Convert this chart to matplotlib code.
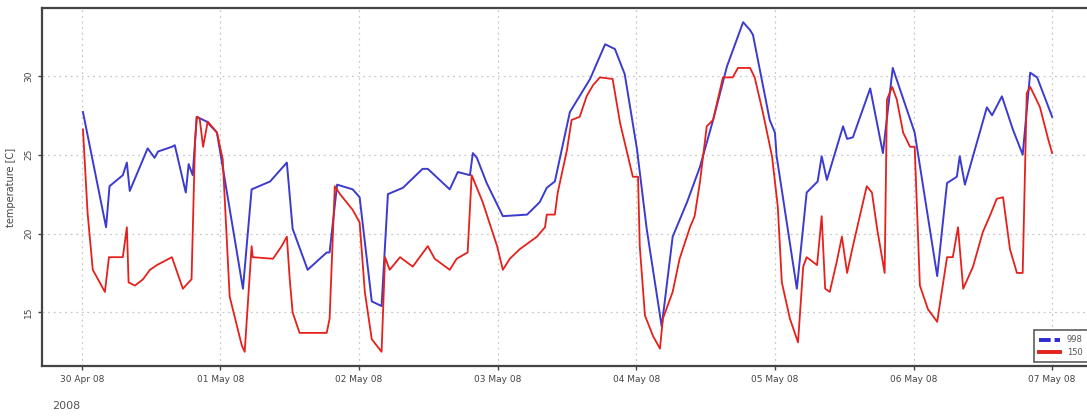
import matplotlib
matplotlib.use('Agg')
import matplotlib.pyplot as plt
import matplotlib.dates as mdates
from matplotlib.lines import Line2D
import pandas as pd

start = pd.Timestamp('2008-04-30')

# sensor at 998 (blue): hours since 30 Apr 00:00, temperature [C]
hours_998 = [0.2, 4.2, 4.8, 7.1, 7.8, 8.3, 11.4, 12.6, 13.2, 15.6, 16.1, 18.0, 18.5, 19.2,
             19.9, 21.6, 23.4, 24.4, 27.9, 29.4, 32.6, 35.5, 36.5, 39.1, 42.4, 42.9, 44.2,
             46.9, 48.1, 50.2, 51.9, 53.0, 55.6, 59.0, 59.9, 63.7, 65.1, 67.2, 67.7, 68.4,
             70.1, 72.9, 77.1, 79.3, 80.5, 81.9, 84.5, 88.0, 90.6, 92.3, 94.0, 96.1, 97.8,
             100.4, 102.3, 104.8, 107.0, 109.3, 111.7, 114.5, 115.7, 116.2, 119.1, 120.0,
             120.3, 123.8, 125.5, 127.4, 128.1, 129.0, 131.8, 132.5, 133.5, 136.5, 138.7,
             140.4, 144.2, 148.1, 149.8, 151.5, 152.0, 152.9, 156.7, 157.6, 159.3, 161.2,
             162.9, 164.2, 165.4, 168.0]
temp_998 = [27.7, 20.4, 23.0, 23.7, 24.5, 22.7, 25.4, 24.8, 25.2, 25.5, 25.6, 22.6, 24.4, 23.7,
            27.4, 27.1, 26.4, 24.2, 16.5, 22.8, 23.3, 24.5, 20.3, 17.7, 18.8, 18.8, 23.1,
            22.8, 22.3, 15.7, 15.4, 22.5, 22.9, 24.1, 24.1, 22.8, 23.9, 23.7, 25.1, 24.8,
            23.2, 21.1, 21.2, 22.0, 22.9, 23.3, 27.7, 29.8, 32.0, 31.7, 30.1, 25.4, 20.3,
            14.1, 19.8, 22.0, 24.2, 27.2, 30.6, 33.4, 32.9, 32.6, 27.2, 26.4,
            24.9, 16.5, 22.6, 23.3, 24.9, 23.4, 26.8, 26.0, 26.1, 29.2, 25.1,
            30.5, 26.4, 17.3, 23.2, 23.6, 24.9, 23.1, 28.0, 27.5, 28.7, 26.6,
            25.0, 30.2, 29.9, 27.4]

# sensor at 150 (red)
hours_150 = [0.2, 1.0, 1.9, 3.1, 4.0, 4.7, 7.1, 7.8, 8.1, 9.2, 10.6, 11.8, 13.0, 15.6, 17.5,
             19.0, 19.6, 19.9, 20.4, 21.0, 21.8, 23.4, 24.4, 25.6, 27.7, 28.2, 29.4, 29.6,
             33.1, 34.6, 35.5, 36.0, 36.5, 37.7, 42.4, 42.9, 43.8, 44.7, 46.9, 48.1, 49.0,
             50.2, 51.9, 52.5, 53.3, 55.1, 57.3, 58.5, 59.9, 61.1, 63.7, 64.9, 66.8, 67.5,
             69.4, 71.9, 72.9, 74.1, 75.8, 78.8, 80.2, 80.5, 81.9, 82.4, 84.0, 84.8, 86.2,
             87.4, 88.5, 89.7, 91.9, 93.2, 95.4, 96.3, 96.6, 97.5, 98.9, 100.1, 100.6, 102.3,
             103.5, 105.3, 106.1, 107.0, 108.2, 109.3, 111.0, 112.7, 113.6, 115.7, 116.5,
             117.9, 119.5, 120.5, 121.2, 122.6, 124.0, 124.9, 125.5, 127.3, 128.1, 128.7,
             129.5, 130.7, 131.6, 132.5, 133.5, 134.7, 135.9, 136.8, 137.7, 139.0, 139.4,
             140.3, 141.1, 142.2, 143.4, 144.2, 145.1, 146.5, 148.1, 149.8, 150.8, 151.7,
             152.6, 154.3, 156.0, 157.2, 158.4, 159.5, 160.7, 161.9, 162.9, 163.6, 164.2,
             165.0, 165.9, 167.3, 168.0]
temp_150 = [26.6, 21.3, 17.7, 16.9, 16.3, 18.5, 18.5, 20.4, 16.9, 16.7, 17.1, 17.7, 18.0, 18.5, 16.5,
            17.1, 25.8, 27.4, 27.3, 25.5, 27.1, 26.4, 24.7, 16.0, 12.9, 12.5, 19.2, 18.5,
            18.4, 19.2, 19.8, 17.1, 15.0, 13.7, 13.7, 14.6, 23.0, 22.5, 21.5, 20.7, 16.3,
            13.3, 12.5, 18.5, 17.7, 18.5, 17.9, 18.5, 19.2, 18.4, 17.7, 18.4, 18.8, 23.7,
            22.0, 19.2, 17.7, 18.4, 19.0, 19.8, 20.4, 21.2, 21.2, 22.6, 25.3, 27.2, 27.4,
            28.7, 29.4, 29.9, 29.8, 27.0, 23.6, 23.6, 19.2, 14.8, 13.5, 12.7, 14.6, 16.3,
            18.4, 20.4, 21.1, 23.2, 26.8, 27.2, 29.9, 29.9, 30.5, 30.5, 29.9,
            27.7, 24.9, 21.7, 16.9, 14.6, 13.1, 17.9, 18.5, 18.0, 21.1, 16.5,
            16.3, 18.2, 19.8, 17.5, 19.2, 21.1, 23.0, 22.6, 20.3, 17.5, 28.5,
            29.3, 28.5, 26.4, 25.5, 25.5, 16.7, 15.2, 14.4, 18.5, 18.5, 20.4,
            16.5, 17.9, 20.1, 21.1, 22.2, 22.3, 19.0, 17.5, 17.5, 28.9, 29.3,
            28.7, 28.0, 26.0, 25.1]

series_labels = ['998', '150']
yticks = [15, 20, 25, 30]

t_998 = start + pd.to_timedelta(hours_998, unit='h')
t_150 = start + pd.to_timedelta(hours_150, unit='h')

fig = plt.figure(figsize=(10.87, 4.19), dpi=100)
ax = fig.add_axes([0.0386, 0.1265, 0.966, 0.8544])

ax.plot(t_998, temp_998, color='#3b3bd0', lw=1.4)
ax.plot(t_150, temp_150, color='#e4211c', lw=1.3)

ax.set_xlim(start - pd.Timedelta(hours=6.9), start + pd.Timedelta(hours=174.9))
ax.set_ylim(11.6, 34.3)
ax.xaxis.set_major_locator(mdates.DayLocator())
ax.xaxis.set_major_formatter(mdates.DateFormatter('%d %b %y'))
ax.set_yticks(yticks)

ax.grid(True, color='#c8c8c8', linestyle=(0, (1.5, 3)), lw=0.9)
ax.tick_params(colors='#444444', labelsize=6.5, length=3, width=1)
for lbl in ax.get_yticklabels():
    lbl.set_rotation(90)
    lbl.set_va('center')
for s in ax.spines.values():
    s.set_color('#444444')
    s.set_linewidth(1.6)
ax.set_ylabel('temperature [C]', fontsize=7, color='#444444', labelpad=6)

fig.text(0.048, 0.025, '2008', fontsize=8, color='#555555')

handles = [Line2D([], [], color='#2a2ad0', lw=2.8, ls=(0, (3, 1))),
           Line2D([], [], color='#e4211c', lw=2.8)]
leg = ax.legend(handles, series_labels, loc='lower left', bbox_to_anchor=(0.941, 0.0),
                fontsize=6, frameon=True, fancybox=False, handlelength=2.5,
                borderpad=0.6, labelspacing=0.4)
leg.get_frame().set_edgecolor('#333333')
leg.get_frame().set_linewidth(1.2)
for t in leg.get_texts():
    t.set_color('#555555')

fig.savefig('out.png', dpi=100)
